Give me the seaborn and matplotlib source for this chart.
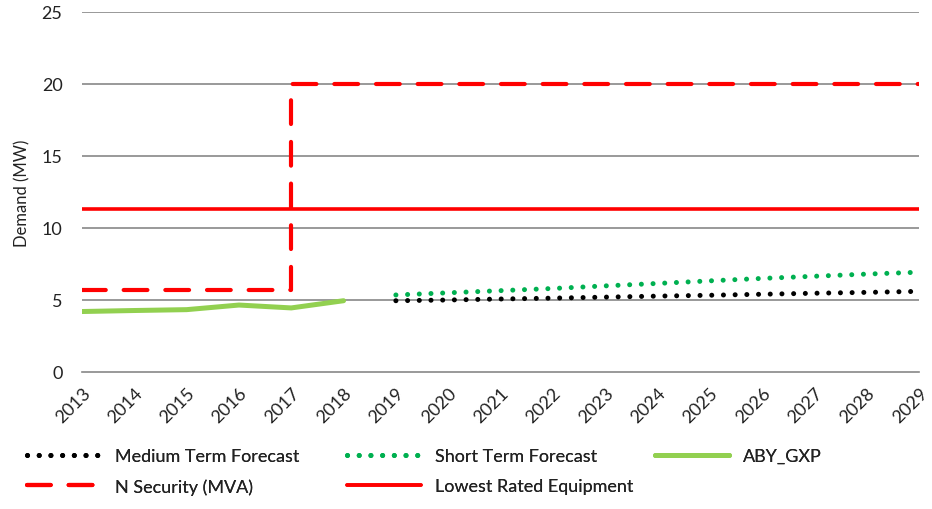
import matplotlib
matplotlib.use("Agg")
import matplotlib.pyplot as plt
import seaborn as sns
import pandas as pd
from matplotlib.lines import Line2D

years = list(range(2013, 2030))

# Historical demand
hist_years = [2013, 2014, 2015, 2016, 2017, 2018]
aby_gxp = [4.2, 4.27, 4.33, 4.65, 4.45, 4.95]

# Forecasts
fc_years = list(range(2019, 2030))
medium_term = [4.95, 5.0, 5.07, 5.13, 5.2, 5.27, 5.33, 5.4, 5.47, 5.53, 5.6]
short_term = [5.35, 5.5, 5.65, 5.8, 5.98, 6.15, 6.33, 6.5, 6.65, 6.8, 6.93]

# Security level (steps at 2017)
nsec_years = [2013, 2017, 2017, 2029]
nsec_values = [5.7, 5.7, 20.0, 20.0]

# Equipment rating
lowest_rated = 11.3

yticks = [0, 5, 10, 15, 20, 25]

sns.set_theme(style="white")
plt.rcParams["font.family"] = ["Lato", "DejaVu Sans"]

DOT = (0, (0.01, 2.33))
DASH = (0, (5.7, 4.3))
GREEN_DOT = "#00b050"
GREEN = "#92d050"
RED = "#ff0000"

fig = plt.figure(figsize=(9.32, 5.10), dpi=100)
ax = fig.add_axes([82 / 932, 1 - 373 / 510, (919 - 82) / 932, (373 - 13) / 510])

for y in yticks[1:]:
    ax.axhline(y, color="#888888", lw=1.2, zorder=1)

df_hist = pd.DataFrame({"year": hist_years, "mw": aby_gxp})
df_med = pd.DataFrame({"year": fc_years, "mw": medium_term})
df_short = pd.DataFrame({"year": fc_years, "mw": short_term})
df_nsec = pd.DataFrame({"year": nsec_years, "mw": nsec_values})
df_rated = pd.DataFrame({"year": [years[0], years[-1]], "mw": [lowest_rated, lowest_rated]})

sns.lineplot(data=df_hist, x="year", y="mw", ax=ax, color=GREEN, lw=3.6,
             sort=False, estimator=None, solid_capstyle="round", zorder=4)
sns.lineplot(data=df_med, x="year", y="mw", ax=ax, color="black", lw=3.6,
             linestyle=DOT, dash_capstyle="round",
             sort=False, estimator=None, zorder=5)
sns.lineplot(data=df_short, x="year", y="mw", ax=ax, color=GREEN_DOT, lw=3.6,
             linestyle=DOT, dash_capstyle="round",
             sort=False, estimator=None, zorder=5)
sns.lineplot(data=df_nsec, x="year", y="mw", ax=ax, color=RED, lw=3,
             linestyle=DASH, dash_capstyle="round",
             sort=False, estimator=None, zorder=3)
sns.lineplot(data=df_rated, x="year", y="mw", ax=ax, color=RED, lw=2.6,
             sort=False, estimator=None, zorder=3)

ax.set_xlim(years[0], years[-1])
ax.set_ylim(0, 25)
ax.set_yticks(yticks)
ax.set_xticks(years)
ax.set_xticklabels([str(y) for y in years], rotation=45, ha="right",
                   rotation_mode="anchor", fontsize=13, color="#222222")
ax.set_yticklabels([str(y) for y in yticks], fontsize=13, color="#222222")
ax.set_xlabel("")
ax.set_ylabel("Demand (MW)", fontsize=12, color="#222222", labelpad=8)

for s in ["top", "right", "left"]:
    ax.spines[s].set_visible(False)
ax.spines["bottom"].set_color("#888888")
ax.spines["bottom"].set_linewidth(1.2)
ax.tick_params(axis="x", direction="out", length=5, width=1.2, color="#888888", pad=4)
ax.tick_params(axis="y", length=0, pad=14)

h_med = Line2D([], [], color="black", lw=3.6, linestyle=DOT, dash_capstyle="round")
h_short = Line2D([], [], color=GREEN_DOT, lw=3.6, linestyle=DOT, dash_capstyle="round")
h_hist = Line2D([], [], color=GREEN, lw=3.6, solid_capstyle="round")
h_nsec = Line2D([], [], color=RED, lw=3, linestyle=DASH, dash_capstyle="round")
h_rated = Line2D([], [], color=RED, lw=2.6)

columns = [
    (27, [h_med, h_nsec], ["Medium Term Forecast", "N Security (MVA)"]),
    (347, [h_short, h_rated], ["Short Term Forecast", "Lowest Rated Equipment"]),
    (655, [h_hist], ["ABY_GXP"]),
]
for x0, hs, ls in columns:
    leg = fig.legend(hs, ls, loc="upper left",
                     bbox_to_anchor=(x0 / 932, 1 - 449 / 510),
                     frameon=False, fontsize=13, handlelength=4.1,
                     handletextpad=0.75, labelspacing=0.78, borderpad=0,
                     borderaxespad=0, labelcolor="#222222")
    fig.add_artist(leg)

fig.savefig("out.png", dpi=100)
